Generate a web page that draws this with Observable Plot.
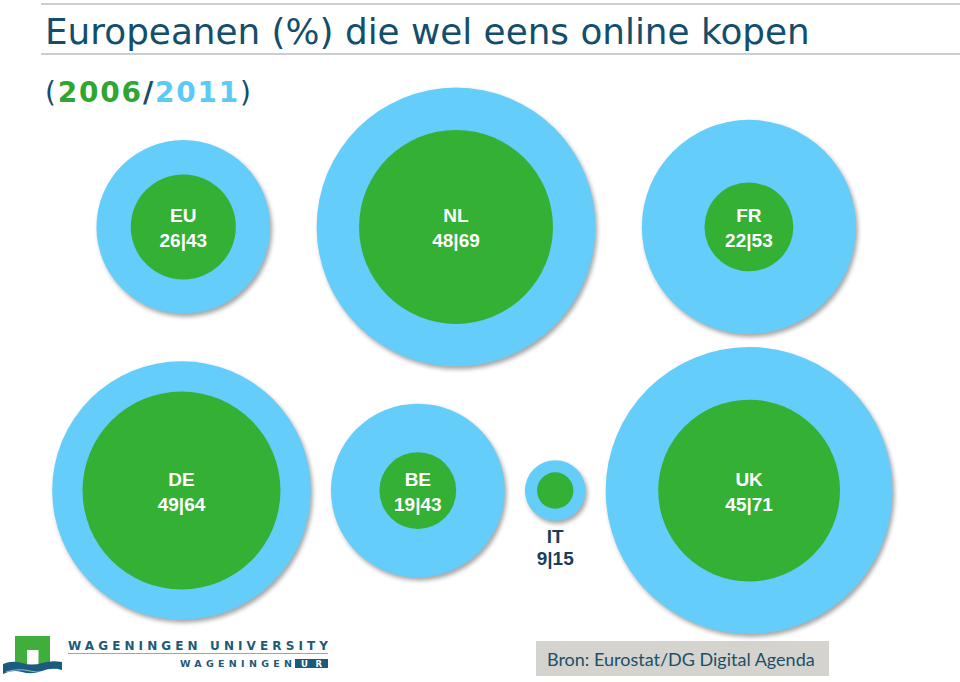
<!DOCTYPE html>
<html>
<head>
<meta charset="utf-8">
<script src="https://cdn.jsdelivr.net/npm/d3@7"></script>
<script src="https://cdn.jsdelivr.net/npm/@observablehq/plot@0.6"></script>
<style>
  html, body { margin: 0; padding: 0; background: #ffffff; }
  #wrap { position: relative; width: 960px; height: 682px; overflow: hidden; background: #ffffff; }
  #chart { position: absolute; left: 0; top: 62px; width: 960px; height: 620px; }
  #chart svg { background: transparent; }
  .rule { position: absolute; left: 41px; width: 919px; height: 2px; background: #c9ced2; }
  #title { position: absolute; left: 45px; top: 14px; font-family: "DejaVu Sans", Verdana, sans-serif;
           font-size: 35.8px; line-height: 35.8px; color: #134e6c; white-space: nowrap; }
  #subtitle { position: absolute; left: 45px; top: 79px; font-family: "DejaVu Sans", Verdana, sans-serif;
              font-size: 28px; line-height: 28px; color: #134e6c; white-space: nowrap; letter-spacing: 1.8px; z-index: 2; }
  #subtitle b { font-weight: bold; }
  #source { position: absolute; left: 536px; top: 641px; width: 293px; height: 35px; background: #d5d3cd; z-index: 2; }
  #source span { position: absolute; left: 11px; top: 8px; font-family: Lato, "Open Sans", sans-serif; font-size: 18px;
                 line-height: 21.6px; color: #1b4f6a; white-space: nowrap; }
  #logo { position: absolute; left: 0; top: 628px; z-index: 2; }
</style>
</head>
<body>
<div id="wrap">
  <div class="rule" style="top:3px"></div>
  <div id="title">Europeanen (%) die wel eens online kopen</div>
  <div class="rule" style="top:53px"></div>
  <div id="subtitle">(<b style="color:#2fa532">2006</b><b>/</b><b style="color:#5ccaf5">2011</b>)</div>
  <div id="chart"></div>
  <svg id="logo" width="340" height="54" viewBox="0 0 340 54">
    <path d="M15,8H50V38H38.5V22H27V38H15Z" fill="#3fae3a"/>
    <path d="M3,36 Q12,32 22,35 T42,35 T62,34 L62,42 Q52,39 42,43 T22,44 T3,46 Z" fill="#1b5b80"/>
    <path d="M6,44 Q18,40 30,43 T58,41" stroke="#ffffff" stroke-width="0.8" fill="none" opacity="0.7"/>
    <text x="68" y="22" font-family="DejaVu Sans, sans-serif" font-weight="bold" font-size="12" fill="#1d5a7a"
          textLength="260" lengthAdjust="spacing">WAGENINGEN UNIVERSITY</text>
    <line x1="68" x2="328" y1="25.5" y2="25.5" stroke="#8fa9b8" stroke-width="1"/>
    <text x="180" y="38.5" font-family="DejaVu Sans, sans-serif" font-weight="bold" font-size="9.5" fill="#1d5a7a"
          textLength="112" lengthAdjust="spacing">WAGENINGEN</text>
    <rect x="295" y="31" width="33" height="9" fill="#1d5a7a"/>
    <text x="301" y="38.8" font-family="DejaVu Sans, sans-serif" font-weight="bold" font-size="8.5" fill="#ffffff"
          textLength="21" lengthAdjust="spacing">UR</text>
  </svg>
  <div id="source"><span>Bron: Eurostat/DG Digital Agenda</span></div>
</div>
<script>
// ---- data (share of Europeans that ever buy online, %) ----
const countries = ["EU", "NL", "FR", "DE", "BE", "IT", "UK"];
const share2006 = [26, 48, 22, 49, 19, 9, 45];
const share2011 = [43, 69, 53, 64, 43, 15, 71];
const rows = [["EU", "NL", "FR"], ["DE", "BE", "IT", "UK"]];

// ---- layout (in percentage-point units: radius = value) ----
const K = 2.02;                 // pixels per percentage point of radius
const W = 960, H = 620;
const ROW_Y = [81.4, 211.9];    // row centre lines (from top)
const ROW_GAP = [23, 10];       // gap between neighbouring outer circles
const ROW_CX = [235.5, 233.6];  // horizontal centre of each row

const table = [];
rows.forEach((row, ri) => {
  const vals = row.map(c => share2011[countries.indexOf(c)]);
  const total = d3.sum(vals) * 2 + ROW_GAP[ri] * (vals.length - 1);
  let cur = ROW_CX[ri] - total / 2;
  row.forEach(c => {
    const i = countries.indexOf(c);
    const v = share2011[i];
    table.push({country: c, v06: share2006[i], v11: v, cx: cur + v, cy: ROW_Y[ri]});
    cur += 2 * v + ROW_GAP[ri];
  });
});

const inside = table.filter(d => d.v06 >= 15);
const below = table.filter(d => d.v06 < 15);
const label = d => `${d.country}\n${d.v06}|${d.v11}`;

const chart = Plot.plot({
  width: W,
  height: H,
  margin: 0,
  style: {background: "transparent"},
  x: {domain: [0, W / K], range: [0, W], axis: null},
  y: {domain: [0, H / K], range: [0, H], axis: null},
  r: {type: "linear", domain: [0, 100], range: [0, 100 * K]},
  marks: [
    Plot.dot(table, {x: "cx", y: "cy", r: "v11", fill: "#64cdfa", ariaDescription: "outer"}),
    Plot.dot(table, {x: "cx", y: "cy", r: "v06", fill: "#34b034"}),
    Plot.text(inside, {x: "cx", y: "cy", text: label, fill: "white", fontSize: 19, fontWeight: "bold",
      fontFamily: "Liberation Sans, Arial, sans-serif", lineHeight: 25 / 19}),
    Plot.text(below, {x: "cx", y: "cy", text: label, fill: "#173f5c", fontSize: 19, fontWeight: "bold",
      fontFamily: "Liberation Sans, Arial, sans-serif", lineHeight: 22 / 19, lineAnchor: "top",
      dy: d3.max(below, d => d.v11) * K + 7})
  ]
});
const outer = chart.querySelector('g[aria-description="outer"]');
if (outer) outer.style.filter = "drop-shadow(2px 3px 2px rgba(0,0,0,0.35))";
document.getElementById("chart").appendChild(chart);
</script>
</body>
</html>
